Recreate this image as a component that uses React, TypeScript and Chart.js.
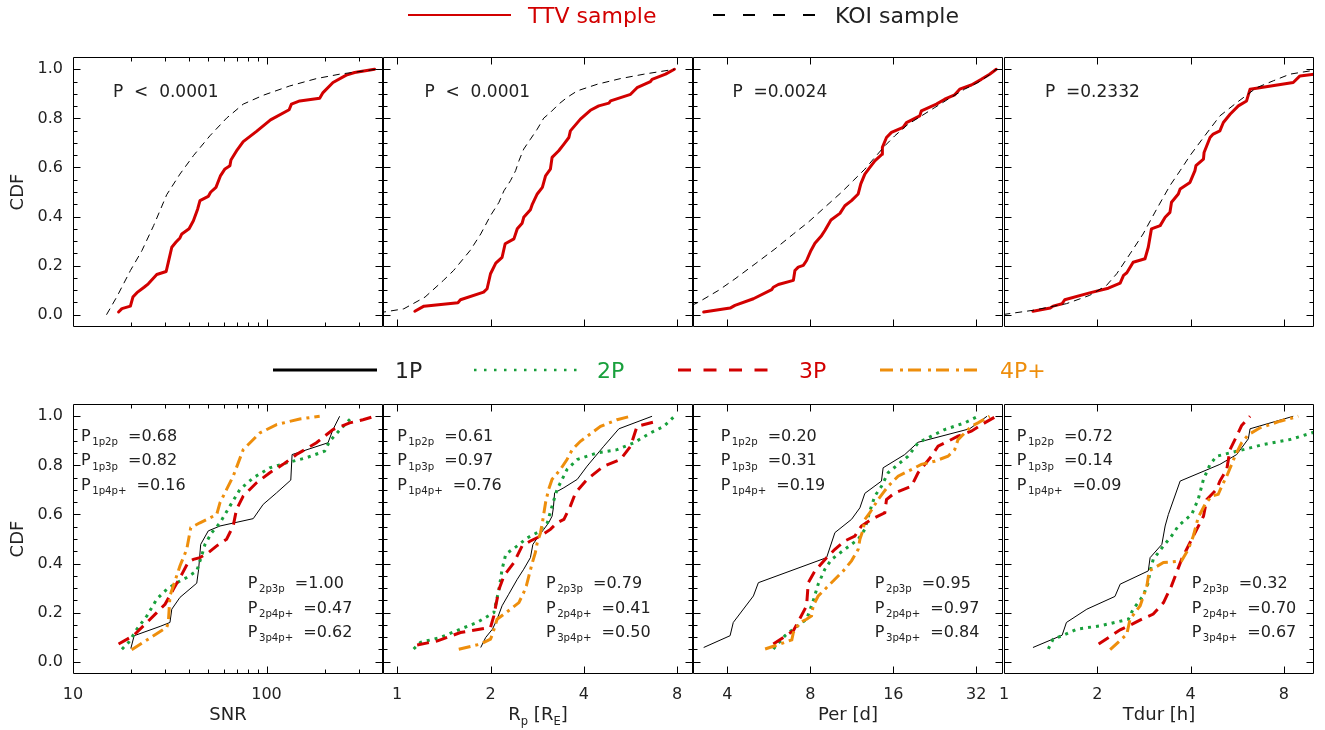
import React, { useEffect, useRef } from "react";
import { Chart, registerables } from "chart.js";

Chart.register(...registerables);

const FIG_W = 1325;
const FIG_H = 730;
const FONT = "'DejaVu Sans', 'Noto Sans', sans-serif";

const RED = "#d20000";
const GREEN = "#18a03c";
const ORANGE = "#ee8e0c";
const INK = "#222222";

type Pt = [number, number];

// ---------- Top row: TTV sample vs KOI sample ----------
const TOP_SNR_TTV: Pt[] = [[17.2,0.011],[17.9,0.025],[19.8,0.035],[20.4,0.072],[21.4,0.09],[23.3,0.112],[24.5,0.126],[27.1,0.164],[30.3,0.176],[31.1,0.214],[32.4,0.275],[34.0,0.295],[35.7,0.313],[36.5,0.329],[39.8,0.35],[41.9,0.383],[44.1,0.431],[45.3,0.465],[50.0,0.482],[51.4,0.499],[54.8,0.519],[57.9,0.567],[61.0,0.594],[64.7,0.607],[65.5,0.63],[70.6,0.672],[75.8,0.705],[88.8,0.747],[104.9,0.794],[130.9,0.835],[134.5,0.858],[148.5,0.871],[188.3,0.882],[195.9,0.905],[220.6,0.946],[258.4,0.976],[285.3,0.987],[361.7,1.0]];
const TOP_SNR_KOI: Pt[] = [[14.9,0.0],[16.9,0.075],[19.8,0.18],[22.7,0.261],[26.1,0.363],[30.5,0.489],[35.7,0.573],[41.9,0.648],[51.0,0.729],[62.2,0.801],[75.8,0.858],[96.1,0.894],[131.8,0.932],[181.1,0.962],[238.8,0.98],[369,1.0]];

const TOP_RP_TTV: Pt[] = [[1.14,0.014],[1.22,0.035],[1.57,0.049],[1.60,0.061],[1.90,0.092],[1.95,0.106],[2.0,0.167],[2.08,0.21],[2.18,0.234],[2.23,0.289],[2.38,0.309],[2.44,0.35],[2.53,0.373],[2.56,0.397],[2.69,0.428],[2.73,0.451],[2.83,0.492],[2.94,0.519],[3.01,0.566],[3.12,0.593],[3.16,0.641],[3.32,0.668],[3.45,0.695],[3.58,0.722],[3.62,0.749],[3.90,0.797],[4.20,0.833],[4.47,0.851],[4.82,0.862],[4.88,0.871],[5.66,0.898],[5.94,0.925],[6.56,0.95],[6.64,0.959],[7.34,0.98],[7.84,1.0]];
const TOP_RP_KOI: Pt[] = [[0.8,0.003],[0.906,0.011],[1.05,0.024],[1.23,0.072],[1.41,0.14],[1.52,0.18],[1.72,0.262],[1.86,0.329],[2.0,0.404],[2.13,0.458],[2.21,0.505],[2.32,0.546],[2.41,0.587],[2.47,0.627],[2.56,0.675],[2.69,0.715],[2.83,0.756],[2.97,0.801],[3.12,0.824],[3.32,0.858],[3.53,0.885],[3.81,0.912],[4.42,0.939],[5.25,0.962],[6.25,0.98],[7.84,1.0]];

const TOP_PER_TTV: Pt[] = [[3.28,0.011],[4.09,0.027],[4.26,0.038],[4.97,0.065],[5.79,0.102],[5.87,0.112],[6.12,0.123],[6.94,0.14],[7.03,0.18],[7.23,0.194],[7.54,0.201],[7.75,0.221],[8.04,0.262],[8.31,0.291],[8.78,0.322],[9.03,0.343],[9.50,0.386],[10.24,0.413],[10.67,0.444],[11.28,0.465],[11.93,0.492],[12.19,0.533],[12.61,0.573],[13.15,0.6],[13.71,0.627],[14.57,0.654],[14.6,0.682],[15.11,0.722],[15.75,0.743],[17.36,0.763],[17.85,0.783],[19.95,0.81],[20.23,0.831],[22.93,0.858],[24.58,0.878],[26.72,0.896],[27.86,0.919],[30.70,0.936],[33.37,0.959],[35.77,0.98],[37.81,1.0]];
const TOP_PER_KOI: Pt[] = [[2.66,0.011],[2.97,0.038],[3.14,0.051],[3.71,0.099],[4.26,0.146],[5.04,0.207],[5.95,0.268],[6.94,0.329],[7.86,0.377],[9.03,0.438],[10.38,0.499],[11.44,0.546],[12.61,0.593],[13.71,0.641],[14.90,0.688],[16.20,0.729],[18.10,0.776],[20.23,0.81],[22.61,0.844],[25.27,0.878],[29.04,0.919],[32.45,0.946],[35.28,0.973],[37.81,1.0]];

const TOP_TDUR_TTV: Pt[] = [[1.24,0.014],[1.41,0.027],[1.44,0.035],[1.54,0.045],[1.57,0.061],[1.89,0.089],[2.17,0.108],[2.37,0.129],[2.43,0.16],[2.49,0.171],[2.61,0.214],[2.85,0.228],[2.92,0.275],[2.99,0.35],[3.19,0.363],[3.31,0.397],[3.43,0.417],[3.47,0.458],[3.65,0.492],[3.70,0.512],[3.98,0.539],[4.13,0.587],[4.16,0.607],[4.40,0.634],[4.42,0.661],[4.62,0.722],[4.73,0.736],[4.97,0.749],[5.10,0.783],[5.36,0.817],[5.70,0.851],[6.06,0.871],[6.22,0.919],[8.57,0.946],[9.01,0.973],[10.0,0.98],[10.5,0.98]];
const TOP_TDUR_KOI: Pt[] = [[0.9,-0.005],[0.995,0.001],[1.24,0.018],[1.59,0.045],[1.89,0.079],[2.14,0.119],[2.31,0.167],[2.55,0.248],[2.81,0.329],[3.11,0.431],[3.43,0.526],[3.70,0.587],[3.98,0.648],[4.40,0.722],[4.97,0.81],[5.63,0.864],[6.53,0.925],[7.39,0.953],[8.36,0.98],[10.0,0.996],[10.5,1.0]];

// ---------- Bottom row: multiplicity classes ----------
const BOT_SNR_1P: Pt[] = [[19.9,0.054],[20.7,0.106],[28.2,0.144],[31.7,0.16],[32.4,0.214],[35.7,0.262],[43.6,0.32],[44.6,0.377],[45.7,0.478],[50.0,0.533],[57.5,0.553],[85.4,0.583],[96.1,0.641],[112.7,0.688],[133.5,0.74],[135.6,0.844],[207.9,0.892],[220.6,0.946],[238.8,1.0]];
const BOT_SNR_2P: Pt[] = [[17.9,0.051],[19.4,0.079],[21.4,0.133],[24.1,0.187],[27.1,0.255],[30.5,0.295],[34.4,0.322],[38.7,0.343],[43.6,0.37],[46.2,0.431],[48.1,0.478],[52.1,0.526],[57.5,0.566],[64.7,0.634],[72.9,0.702],[85.4,0.749],[104.0,0.79],[126.7,0.81],[160.8,0.831],[199.8,0.858],[211.9,0.898],[258.4,0.973],[279.8,1.0]];
const BOT_SNR_3P: Pt[] = [[17.2,0.072],[20.5,0.106],[24.1,0.16],[27.1,0.2],[29.9,0.234],[33.0,0.295],[36.5,0.356],[39.5,0.407],[41.9,0.417],[45.3,0.424],[50.0,0.444],[55.3,0.472],[62.2,0.499],[67.3,0.553],[70.0,0.621],[75.8,0.675],[88.8,0.729],[104.0,0.77],[121.8,0.804],[142.8,0.844],[181.1,0.892],[220.6,0.946],[268.9,0.973],[315,0.986],[362,1.0]];
const BOT_SNR_4P: Pt[] = [[20.1,0.049],[30.5,0.14],[31.1,0.16],[31.7,0.268],[35.7,0.39],[38.7,0.458],[40.6,0.546],[45.3,0.566],[55.3,0.6],[57.5,0.648],[62.2,0.702],[67.3,0.756],[75.8,0.864],[92.4,0.932],[112.7,0.966],[148.5,0.989],[188.3,1.0]];

const BOT_RP_1P: Pt[] = [[1.86,0.058],[1.93,0.099],[2.03,0.133],[2.10,0.173],[2.18,0.228],[2.29,0.275],[2.44,0.336],[2.56,0.377],[2.69,0.424],[2.74,0.478],[2.86,0.512],[2.97,0.539],[3.08,0.566],[3.16,0.593],[3.19,0.627],[3.22,0.688],[3.45,0.709],[3.81,0.743],[4.10,0.797],[4.64,0.878],[5.19,0.949],[6.64,1.0]];
const BOT_RP_2P: Pt[] = [[1.13,0.052],[1.19,0.079],[1.38,0.099],[1.60,0.133],[1.81,0.16],[2.05,0.2],[2.13,0.295],[2.18,0.377],[2.24,0.438],[2.44,0.472],[2.63,0.505],[2.83,0.526],[3.05,0.566],[3.16,0.634],[3.28,0.702],[3.53,0.783],[3.81,0.824],[4.42,0.851],[5.12,0.864],[5.80,0.892],[6.56,0.932],[7.25,0.959],[7.84,1.0]];
const BOT_RP_3P: Pt[] = [[1.16,0.068],[1.35,0.085],[1.60,0.119],[2.0,0.14],[2.05,0.187],[2.13,0.295],[2.21,0.35],[2.38,0.404],[2.53,0.472],[2.69,0.492],[2.90,0.512],[3.12,0.539],[3.28,0.566],[3.45,0.58],[3.62,0.634],[3.76,0.688],[4.10,0.743],[4.64,0.797],[5.25,0.824],[5.66,0.878],[5.94,0.959],[6.90,0.98]];
const BOT_RP_4P: Pt[] = [[1.58,0.051],[1.86,0.072],[2.0,0.092],[2.03,0.112],[2.10,0.173],[2.32,0.214],[2.47,0.241],[2.56,0.282],[2.61,0.309],[2.66,0.35],[2.73,0.404],[2.79,0.444],[2.83,0.485],[2.90,0.526],[2.94,0.566],[3.01,0.648],[3.08,0.702],[3.16,0.743],[3.36,0.783],[3.53,0.824],[3.67,0.864],[3.90,0.898],[4.53,0.959],[5.12,0.986],[5.66,1.0]];

const BOT_PER_1P: Pt[] = [[3.28,0.058],[4.09,0.106],[4.20,0.16],[4.97,0.268],[5.18,0.322],[9.16,0.424],[9.82,0.526],[11.28,0.58],[12.10,0.627],[12.61,0.686],[14.49,0.736],[14.69,0.79],[17.60,0.844],[19.67,0.894],[30.27,0.949],[35.0,1.0]];
const BOT_PER_2P: Pt[] = [[5.87,0.052],[6.47,0.106],[6.94,0.133],[7.75,0.173],[8.19,0.248],[8.54,0.316],[9.03,0.377],[9.55,0.417],[10.67,0.458],[11.93,0.499],[12.61,0.539],[13.15,0.614],[13.71,0.675],[14.49,0.715],[15.32,0.77],[16.65,0.804],[18.10,0.837],[19.67,0.892],[21.99,0.919],[24.58,0.946],[29.04,0.973],[32.45,1.0]];
const BOT_PER_3P: Pt[] = [[5.87,0.072],[6.94,0.126],[7.75,0.228],[7.86,0.322],[8.31,0.37],[9.16,0.424],[9.82,0.458],[10.67,0.492],[11.60,0.512],[12.26,0.553],[13.33,0.58],[14.90,0.607],[15.11,0.661],[16.20,0.688],[18.61,0.715],[19.67,0.77],[21.99,0.837],[23.25,0.878],[27.47,0.919],[30.70,0.939],[34.30,0.973],[37.81,1.0]];
const BOT_PER_4P: Pt[] = [[5.48,0.052],[5.95,0.065],[6.85,0.089],[6.94,0.119],[7.33,0.16],[7.75,0.173],[8.08,0.187],[8.19,0.228],[8.54,0.268],[9.03,0.295],[9.82,0.336],[10.53,0.37],[11.28,0.411],[11.93,0.458],[12.10,0.499],[12.44,0.539],[12.61,0.58],[13.15,0.607],[14.09,0.661],[14.69,0.688],[15.32,0.715],[16.65,0.756],[18.61,0.783],[20.23,0.804],[22.61,0.817],[25.27,0.837],[26.72,0.864],[27.47,0.905],[30.70,0.959],[32.45,0.973],[35.77,1.0]];

const BOT_TDUR_1P: Pt[] = [[1.24,0.058],[1.54,0.108],[1.59,0.16],[1.85,0.214],[2.28,0.266],[2.37,0.316],[2.92,0.37],[2.96,0.424],[3.23,0.478],[3.31,0.553],[3.39,0.6],[3.70,0.736],[4.97,0.804],[5.63,0.844],[6.14,0.908],[6.22,0.949],[8.57,1.0]];
const BOT_TDUR_2P: Pt[] = [[1.39,0.052],[1.44,0.092],[1.54,0.106],[1.72,0.133],[2.04,0.146],[2.52,0.173],[2.61,0.214],[2.81,0.268],[2.92,0.322],[2.96,0.37],[3.03,0.417],[3.27,0.472],[3.47,0.512],[3.65,0.553],[4.03,0.6],[4.23,0.661],[4.40,0.743],[4.62,0.804],[4.85,0.837],[5.36,0.851],[5.92,0.864],[6.86,0.885],[8.36,0.905],[10.0,0.935],[10.5,0.94]];
const BOT_TDUR_3P: Pt[] = [[2.02,0.072],[2.37,0.13],[2.55,0.149],[2.81,0.176],[3.03,0.194],[3.27,0.241],[3.47,0.309],[3.74,0.417],[4.08,0.512],[4.40,0.593],[4.51,0.661],[4.85,0.702],[4.97,0.736],[5.23,0.783],[5.36,0.864],[5.63,0.919],[5.84,0.962],[6.22,1.0]];
const BOT_TDUR_4P: Pt[] = [[2.20,0.049],[2.49,0.112],[2.55,0.173],[2.75,0.228],[2.89,0.309],[2.94,0.37],[3.27,0.404],[3.74,0.411],[3.93,0.458],[4.08,0.512],[4.23,0.587],[4.45,0.641],[4.68,0.675],[4.91,0.682],[5.04,0.715],[5.23,0.756],[5.56,0.837],[5.84,0.892],[6.14,0.925],[6.70,0.953],[7.77,0.98],[8.90,1.0]];

// ---------- Axes ----------
const X_MIN = [10, 0.9, 3, 1];
const X_MAX = [400, 9, 40, 10];
const X_MAJOR = [[10, 100], [1, 2, 4, 8], [4, 8, 16, 32], [1, 2, 4, 8]];
const X_MAJOR_LABELS = [["10", "100"], ["1", "2", "4", "8"], ["4", "8", "16", "32"], ["1", "2", "4", "8"]];
const X_MINOR = [[20, 30, 40, 50, 60, 70, 80, 90, 200, 300], [], [], []];
const Y_MIN = -0.05;
const Y_MAX = 1.05;
const Y_MAJOR = [0, 0.2, 0.4, 0.6, 0.8, 1.0];
const Y_MAJOR_LABELS = ["0.0", "0.2", "0.4", "0.6", "0.8", "1.0"];
const Y_MINOR = [0.05, 0.1, 0.15, 0.25, 0.3, 0.35, 0.45, 0.5, 0.55, 0.65, 0.7, 0.75, 0.85, 0.9, 0.95];

type Seg = { t: string; sub?: boolean; gap?: number };
const X_TITLES: Seg[][] = [
  [{ t: "SNR" }],
  [{ t: "R" }, { t: "p", sub: true }, { t: " [R" }, { t: "E", sub: true }, { t: "]" }],
  [{ t: "Per [d]" }],
  [{ t: "Tdur [h]" }],
];
const Y_TITLE = "CDF";

// ---------- Annotations ----------
const TOP_P_TEXT = ["P  <  0.0001", "P  <  0.0001", "P  =0.0024", "P  =0.2332"];
const TOP_P_X = [16.1, 1.225, 4.17, 1.356];
const TOP_P_Y = 0.888;

const PAIR_LABELS_UPPER = ["1p2p", "1p3p", "1p4p+"];
const PAIR_LABELS_LOWER = ["2p3p", "2p4p+", "3p4p+"];
const PVALS_UPPER = [["0.68", "0.82", "0.16"], ["0.61", "0.97", "0.76"], ["0.20", "0.31", "0.19"], ["0.72", "0.14", "0.09"]];
const PVALS_LOWER = [["1.00", "0.47", "0.62"], ["0.79", "0.41", "0.50"], ["0.95", "0.97", "0.84"], ["0.32", "0.70", "0.67"]];
const UPPER_X = [11.0, 1.0, 3.78, 1.1];
const LOWER_X = [80, 3.02, 13.7, 4.03];
const UPPER_Y = [0.9, 0.8, 0.7];
const LOWER_Y = [0.3, 0.2, 0.1];

// ---------- Legend labels ----------
const TOP_LEGEND = ["TTV sample", "KOI sample"];
const BOT_LEGEND = ["1P", "2P", "3P", "4P+"];

// ---------- Layout ----------
const COL_LEFT = [73, 383, 693, 1004];
const COL_RIGHT = [383, 693, 1003, 1314];
const ROW_TOP = [57, 404];
const ROW_BOTTOM = [327, 674];
const X_AXIS_H = 55;
const Y_AXIS_W = 73;

// ---------- Styles ----------
const STYLE_TTV = { borderColor: RED, borderWidth: 3, borderDash: [] as number[], borderCapStyle: "round", borderJoinStyle: "round" };
const STYLE_KOI = { borderColor: "#000", borderWidth: 1, borderDash: [7, 5], borderCapStyle: "butt", borderJoinStyle: "miter" };
const STYLE_1P = { borderColor: "#000", borderWidth: 1, borderDash: [] as number[], borderCapStyle: "butt", borderJoinStyle: "miter" };
const STYLE_2P = { borderColor: GREEN, borderWidth: 3, borderDash: [3, 5], borderCapStyle: "butt", borderJoinStyle: "miter" };
const STYLE_3P = { borderColor: RED, borderWidth: 3, borderDash: [12, 7], borderCapStyle: "butt", borderJoinStyle: "miter" };
const STYLE_4P = { borderColor: ORANGE, borderWidth: 3, borderDash: [12, 5, 3, 5], borderCapStyle: "butt", borderJoinStyle: "miter" };

// dataset index 0 is drawn on top by Chart.js
const TOP_SERIES: Pt[][][] = [
  [TOP_SNR_KOI, TOP_SNR_TTV],
  [TOP_RP_KOI, TOP_RP_TTV],
  [TOP_PER_KOI, TOP_PER_TTV],
  [TOP_TDUR_KOI, TOP_TDUR_TTV],
];
const TOP_STYLES = [STYLE_KOI, STYLE_TTV];
const BOT_SERIES: Pt[][][] = [
  [BOT_SNR_4P, BOT_SNR_3P, BOT_SNR_2P, BOT_SNR_1P],
  [BOT_RP_4P, BOT_RP_3P, BOT_RP_2P, BOT_RP_1P],
  [BOT_PER_4P, BOT_PER_3P, BOT_PER_2P, BOT_PER_1P],
  [BOT_TDUR_4P, BOT_TDUR_3P, BOT_TDUR_2P, BOT_TDUR_1P],
];
const BOT_STYLES = [STYLE_4P, STYLE_3P, STYLE_2P, STYLE_1P];

function drawRich(ctx: CanvasRenderingContext2D, x: number, y: number, segs: Seg[], size: number, color: string, align: "left" | "center" = "left") {
  const mainFont = `${size}px ${FONT}`;
  const subFont = `${Math.round(size * 0.64 * 10) / 10}px ${FONT}`;
  const widths = segs.map((s) => {
    ctx.font = s.sub ? subFont : mainFont;
    return ctx.measureText(s.t).width + (s.gap || 0);
  });
  const total = widths.reduce((a, b) => a + b, 0);
  let cx = align === "center" ? x - total / 2 : x;
  ctx.fillStyle = color;
  ctx.textAlign = "left";
  ctx.textBaseline = "alphabetic";
  segs.forEach((s, i) => {
    cx += s.gap || 0;
    ctx.font = s.sub ? subFont : mainFont;
    ctx.fillText(s.t, cx, s.sub ? y + size * 0.26 : y);
    cx += widths[i] - (s.gap || 0);
  });
}

function makeDecor(row: number, col: number) {
  return {
    id: `decor_${row}_${col}`,
    afterDraw(chart: any) {
      const { ctx, chartArea: a } = chart;
      const xs = chart.scales.x;
      const ys = chart.scales.y;
      ctx.save();
      ctx.strokeStyle = "#000";
      ctx.lineWidth = 1;
      const L = Math.round(a.left) + 0.5;
      const R = Math.round(a.right) - 0.5;
      const T = Math.round(a.top) + 0.5;
      const B = Math.round(a.bottom) - 0.5;
      ctx.beginPath();
      ctx.rect(L, T, R - L, B - T);
      const xt = (v: number, len: number) => {
        const p = Math.round(xs.getPixelForValue(v)) + 0.5;
        ctx.moveTo(p, B); ctx.lineTo(p, B - len);
        ctx.moveTo(p, T); ctx.lineTo(p, T + len);
      };
      const yt = (v: number, len: number) => {
        const p = Math.round(ys.getPixelForValue(v)) + 0.5;
        ctx.moveTo(L, p); ctx.lineTo(L + len, p);
        ctx.moveTo(R, p); ctx.lineTo(R - len, p);
      };
      X_MAJOR[col].forEach((v) => { if (v > X_MIN[col] && v < X_MAX[col]) xt(v, 7); });
      X_MINOR[col].forEach((v) => xt(v, 4));
      Y_MAJOR.forEach((v) => yt(v, 7));
      Y_MINOR.forEach((v) => yt(v, 4));
      ctx.stroke();

      if (row === 0) {
        drawRich(ctx, xs.getPixelForValue(TOP_P_X[col]), ys.getPixelForValue(TOP_P_Y), [{ t: TOP_P_TEXT[col] }], 17, INK);
      } else {
        PAIR_LABELS_UPPER.forEach((lab, i) => {
          drawRich(ctx, xs.getPixelForValue(UPPER_X[col]), ys.getPixelForValue(UPPER_Y[i]),
            [{ t: "P" }, { t: lab, sub: true, gap: 1.5 }, { t: "=" + PVALS_UPPER[col][i], gap: 10 }], 16, INK);
        });
        PAIR_LABELS_LOWER.forEach((lab, i) => {
          drawRich(ctx, xs.getPixelForValue(LOWER_X[col]), ys.getPixelForValue(LOWER_Y[i]),
            [{ t: "P" }, { t: lab, sub: true, gap: 1.5 }, { t: "=" + PVALS_LOWER[col][i], gap: 10 }], 16, INK);
        });
        drawRich(ctx, (a.left + a.right) / 2, 720, X_TITLES[col], 18, INK, "center");
      }
      ctx.restore();
    },
  };
}

function buildConfig(row: number, col: number): any {
  const showX = row === 1;
  const showY = col === 0;
  const series = row === 0 ? TOP_SERIES[col] : BOT_SERIES[col];
  const styles = row === 0 ? TOP_STYLES : BOT_STYLES;
  const datasets = series.map((pts, i) => ({
    data: pts.map(([x, y]) => ({ x, y })),
    ...styles[i],
    pointRadius: 0,
    tension: 0,
    fill: false,
  }));
  const xScale: any = {
    type: "logarithmic",
    min: X_MIN[col],
    max: X_MAX[col],
    display: showX,
    grid: { display: false, drawTicks: false },
    border: { display: false },
    afterBuildTicks: (s: any) => { s.ticks = X_MAJOR[col].map((v) => ({ value: v })); },
    ticks: {
      autoSkip: false, maxRotation: 0, minRotation: 0, padding: 11,
      color: INK, font: { family: FONT, size: 16 },
      callback: (_v: any, i: number) => X_MAJOR_LABELS[col][i],
    },
  };
  if (showX) xScale.afterFit = (s: any) => { s.height = X_AXIS_H; };
  const yScale: any = {
    type: "linear",
    min: Y_MIN,
    max: Y_MAX,
    display: showY,
    grid: { display: false, drawTicks: false },
    border: { display: false },
    afterBuildTicks: (s: any) => { s.ticks = Y_MAJOR.map((v) => ({ value: v })); },
    ticks: {
      autoSkip: false, padding: 10, color: INK, font: { family: FONT, size: 16 },
      callback: (_v: any, i: number) => Y_MAJOR_LABELS[i],
    },
    title: { display: true, text: Y_TITLE, color: INK, font: { family: FONT, size: 18 }, padding: { top: 8, bottom: 0 } },
  };
  if (showY) yScale.afterFit = (s: any) => { s.width = Y_AXIS_W; };
  return {
    type: "line",
    data: { datasets },
    options: {
      animation: false,
      responsive: false,
      maintainAspectRatio: false,
      events: [],
      layout: {
        autoPadding: false,
        padding: {
          left: showY ? COL_LEFT[col] - Y_AXIS_W : COL_LEFT[col],
          right: FIG_W - COL_RIGHT[col],
          top: ROW_TOP[row],
          bottom: FIG_H - ROW_BOTTOM[row] - (showX ? X_AXIS_H : 0),
        },
      },
      plugins: { legend: { display: false }, tooltip: { enabled: false }, title: { display: false } },
      scales: { x: xScale, y: yScale },
    },
    plugins: [makeDecor(row, col)],
  };
}

function Legends() {
  const txt = { fontFamily: "DejaVu Sans, sans-serif", fontSize: 22 } as const;
  return (
    <svg width={FIG_W} height={FIG_H} style={{ position: "absolute", left: 0, top: 0 }}>
      <line x1={408} x2={511} y1={15} y2={15} stroke={RED} strokeWidth={2} />
      <text x={528} y={23} fill={RED} {...txt}>{TOP_LEGEND[0]}</text>
      <line x1={713} x2={815} y1={15} y2={15} stroke="#000" strokeWidth={2} strokeDasharray="12 18" />
      <text x={835} y={23} fill={INK} {...txt}>{TOP_LEGEND[1]}</text>

      <line x1={273} x2={377} y1={370} y2={370} stroke="#000" strokeWidth={3} />
      <text x={395} y={378} fill={INK} {...txt}>{BOT_LEGEND[0]}</text>
      <line x1={474} x2={579} y1={370} y2={370} stroke={GREEN} strokeWidth={2.5} strokeDasharray="2.5 7.5" />
      <text x={597} y={378} fill={GREEN} {...txt}>{BOT_LEGEND[1]}</text>
      <line x1={678} x2={768} y1={370} y2={370} stroke={RED} strokeWidth={3} strokeDasharray="13 12.5" />
      <text x={799} y={378} fill={RED} {...txt}>{BOT_LEGEND[2]}</text>
      <line x1={880} x2={980} y1={370} y2={370} stroke={ORANGE} strokeWidth={3} strokeDasharray="13 7 3 5" />
      <text x={1000} y={378} fill={ORANGE} {...txt}>{BOT_LEGEND[3]}</text>
    </svg>
  );
}

export default function App() {
  const refs = useRef<(HTMLCanvasElement | null)[]>([]);
  useEffect(() => {
    document.body.style.margin = "0";
    const charts: Chart[] = [];
    for (let row = 0; row < 2; row++) {
      for (let col = 0; col < 4; col++) {
        const canvas = refs.current[row * 4 + col];
        if (!canvas) continue;
        charts.push(new Chart(canvas, buildConfig(row, col)));
      }
    }
    return () => charts.forEach((c) => c.destroy());
  }, []);
  return (
    <div style={{ position: "fixed", left: 0, top: 0, width: FIG_W, height: FIG_H, background: "#fff", overflow: "hidden" }}>
      {Array.from({ length: 8 }).map((_, i) => (
        <canvas
          key={i}
          ref={(el) => { refs.current[i] = el; }}
          width={FIG_W}
          height={FIG_H}
          style={{ position: "absolute", left: 0, top: 0 }}
        />
      ))}
      <Legends />
    </div>
  );
}
